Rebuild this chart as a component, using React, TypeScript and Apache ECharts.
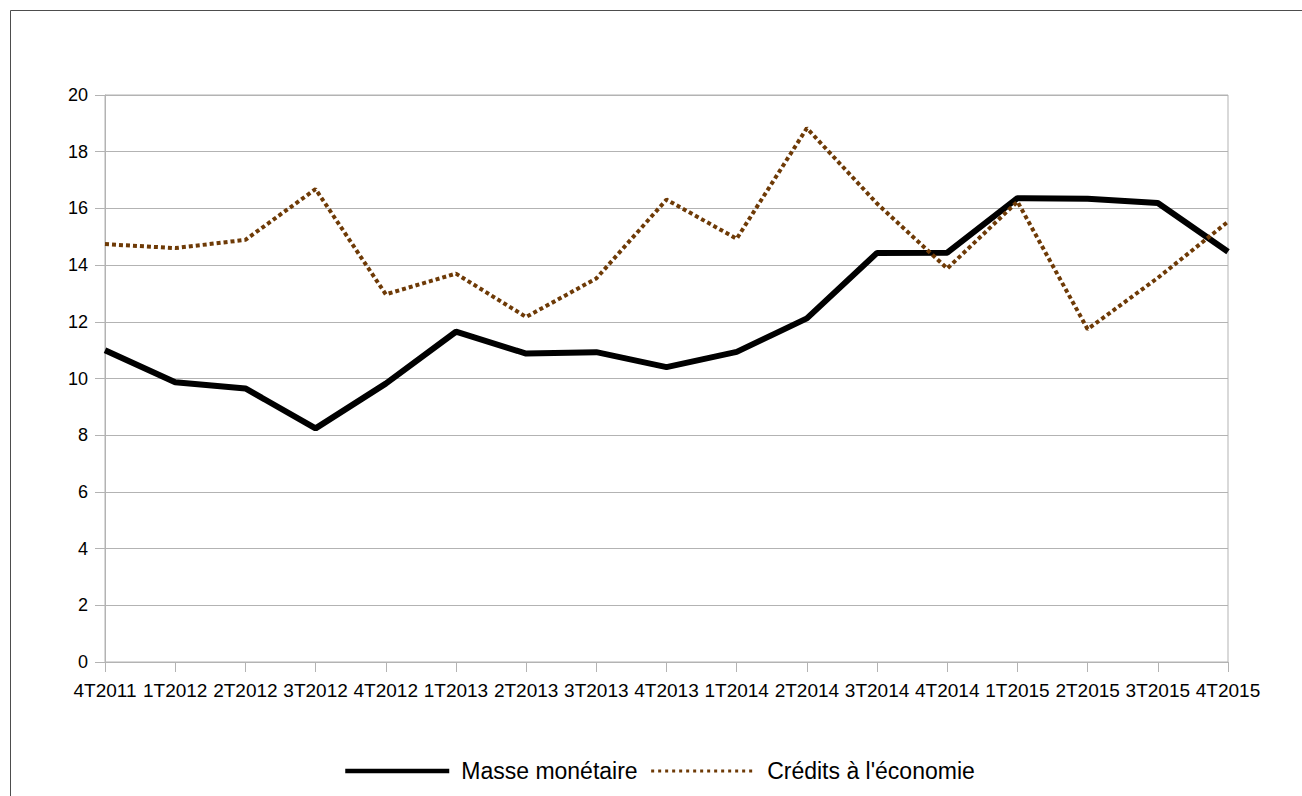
import React, { useEffect, useRef } from "react";
import * as echarts from "echarts";

const categories = [
  "4T2011", "1T2012", "2T2012", "3T2012", "4T2012", "1T2013", "2T2013", "3T2013", "4T2013",
  "1T2014", "2T2014", "3T2014", "4T2014", "1T2015", "2T2015", "3T2015", "4T2015",
];
const masseMonetaire = [11.0, 9.87, 9.65, 8.24, 9.82, 11.65, 10.88, 10.93, 10.4, 10.94, 12.12, 14.43, 14.44, 16.36, 16.34, 16.19, 14.47];
const creditsEconomie = [14.74, 14.6, 14.89, 16.68, 12.97, 13.7, 12.17, 13.53, 16.31, 14.93, 18.83, 16.17, 13.88, 16.24, 11.74, 13.55, 15.53];
const seriesNames = ["Masse monétaire", "Crédits à l'économie"];

const FONT = "'Liberation Sans', Arial, sans-serif";
const GRID = "#b3b3b3";
const BROWN = "#6e3a06";

export default function App() {
  const ref = useRef<HTMLDivElement>(null);
  useEffect(() => {
    if (!ref.current) return;
    const chart = echarts.init(ref.current, undefined, { renderer: "svg" });
    chart.setOption({
      animation: false,
      backgroundColor: "#ffffff",
      textStyle: { fontFamily: FONT },
      graphic: [
        {
          type: "rect",
          shape: { x: 2.5, y: 2.5, width: 1400, height: 900 },
          style: { fill: "none", stroke: "#4d4d4d", lineWidth: 1 },
          silent: true,
          z: 0,
        },
      ],
      grid: {
        left: 97,
        top: 87,
        right: 74,
        bottom: 134,
        show: true,
        borderColor: GRID,
        borderWidth: 1,
        backgroundColor: "transparent",
      },
      legend: {
        left: 330,
        top: 746,
        itemWidth: 104,
        itemHeight: 14,
        itemGap: 12,
        itemStyle: { opacity: 0 },
        textStyle: {
          fontFamily: FONT,
          fontSize: 23,
          lineHeight: 24,
          color: "#000",
          padding: [0, 0, 0, 7],
        },
        data: [
          { name: seriesNames[0], lineStyle: { width: 4.5, color: "#000000" } },
          { name: seriesNames[1], lineStyle: { width: 3, color: BROWN, type: [3, 4] } },
        ],
      },
      xAxis: {
        type: "category",
        data: categories,
        boundaryGap: false,
        axisLine: { show: true, lineStyle: { color: GRID, width: 1 } },
        axisTick: { show: true, length: 10, alignWithLabel: true, interval: 0, lineStyle: { color: GRID } },
        axisLabel: { interval: 0, fontSize: 19, color: "#000", margin: 19, fontFamily: FONT },
        splitLine: { show: false },
      },
      yAxis: {
        type: "value",
        min: 0,
        max: 20,
        interval: 2,
        axisLine: { show: true, lineStyle: { color: GRID, width: 1 } },
        axisTick: { show: true, length: 10, lineStyle: { color: GRID } },
        axisLabel: { fontSize: 18, color: "#000", margin: 17, fontFamily: FONT },
        splitLine: { show: true, lineStyle: { color: GRID, width: 1 } },
      },
      series: [
        {
          name: seriesNames[0],
          type: "line",
          data: masseMonetaire,
          symbol: "none",
          lineStyle: { color: "#000000", width: 6, cap: "butt" },
          itemStyle: { color: "#000000" },
          z: 3,
        },
        {
          name: seriesNames[1],
          type: "line",
          data: creditsEconomie,
          symbol: "none",
          lineStyle: { color: BROWN, width: 4, type: [4, 3], cap: "butt" },
          itemStyle: { color: BROWN },
          z: 4,
        },
      ],
    });
    return () => chart.dispose();
  }, []);
  return (
    <div
      ref={ref}
      style={{ position: "fixed", left: 8, top: 8, width: 1294, height: 788, overflow: "hidden" }}
    />
  );
}
